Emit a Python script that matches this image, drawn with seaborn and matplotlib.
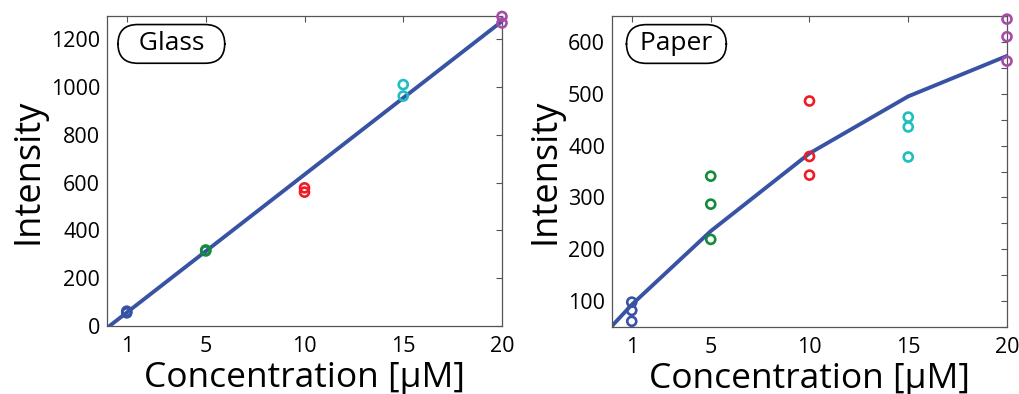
import numpy as np
import pandas as pd
import matplotlib
matplotlib.use("Agg")
import matplotlib.pyplot as plt
import seaborn as sns

# ---- data ----
conc_levels = [1, 5, 10, 15, 20]
point_colors = ["#3953a4", "#138b3c", "#ee1c24", "#1fbfbf", "#a84aa8"]

glass_x = [1, 1, 5, 5, 10, 10, 15, 15, 20, 20]
glass_y = [55, 62, 314, 318, 560, 578, 962, 1010, 1268, 1295]
glass_fit_x = [0, 20]
glass_fit_y = [-8, 1275]

paper_x = [1, 1, 1, 5, 5, 5, 10, 10, 10, 15, 15, 15, 20, 20, 20]
paper_y = [98, 82, 61, 341, 287, 219, 486, 379, 343, 455, 436, 378, 644, 610, 563]
paper_fit_x = [0, 1, 5, 10, 15, 20]
paper_fit_y = [52, 93, 235, 385, 495, 573]

xticks = [1, 5, 10, 15, 20]

sns.set_theme(style="white")
plt.rcParams["font.family"] = ["Open Sans", "DejaVu Sans"]
plt.rcParams["text.color"] = "black"
plt.rcParams["axes.labelcolor"] = "black"
plt.rcParams["xtick.color"] = "black"
plt.rcParams["ytick.color"] = "black"

fig = plt.figure(figsize=(10.2, 3.94), dpi=100)
W, H = 1020, 394
ax1 = fig.add_axes([107 / W, (H - 326) / H, 395 / W, 310 / H])
ax2 = fig.add_axes([612 / W, (H - 327) / H, 395 / W, 311 / H])

line_color = "#3953a4"
palette = dict(zip(conc_levels, point_colors))


def draw(ax, xs, ys, fx, fy, label, lx, ylim, major, minor):
    df = pd.DataFrame({"x": xs, "y": ys})
    fit = pd.DataFrame({"x": fx, "y": fy})
    sns.lineplot(data=fit, x="x", y="y", ax=ax, color=line_color, lw=2.8,
                 sort=False, estimator=None, zorder=2)
    sns.scatterplot(data=df, x="x", y="y", hue="x", palette=palette, ax=ax,
                    marker="o", s=42, facecolor="none", linewidth=1.9,
                    legend=False, zorder=3, clip_on=False)
    for coll in ax.collections:
        fc = coll.get_facecolors()
        coll.set_edgecolors(fc)
        coll.set_facecolors("none")
    ax.set_xlim(0, 20)
    ax.set_ylim(*ylim)
    ax.set_xticks(xticks)
    ax.set_yticks(major)
    ax.set_yticks(minor, minor=True)
    ax.tick_params(axis="both", which="both", direction="in", length=4,
                   width=0.8, color="#555555", top=True, right=True,
                   labelsize=15.5, labelcolor="black", pad=5)
    ax.tick_params(axis="x", pad=7)
    ax.tick_params(axis="y", which="minor", labelleft=False)
    for s in ax.spines.values():
        s.set_color("#555555")
        s.set_linewidth(0.9)
    ax.set_xlabel("Concentration [μM]", fontsize=25.5, labelpad=3)
    ax.set_ylabel("Intensity", fontsize=26, labelpad=3)
    ax.text(lx, 0.91, label, transform=ax.transAxes, fontsize=19,
            ha="left", va="center",
            bbox=dict(boxstyle="round,pad=0.26,rounding_size=0.75",
                      fc="white", ec="black", lw=1.2))


draw(ax1, glass_x, glass_y, glass_fit_x, glass_fit_y, "  Glass  ", 0.045,
     (0, 1297), list(range(0, 1201, 200)), [])
draw(ax2, paper_x, paper_y, paper_fit_x, paper_fit_y, " Paper ", 0.054,
     (54, 644), list(range(100, 601, 100)), list(range(50, 651, 50)))

fig.savefig("out.png", dpi=100)
